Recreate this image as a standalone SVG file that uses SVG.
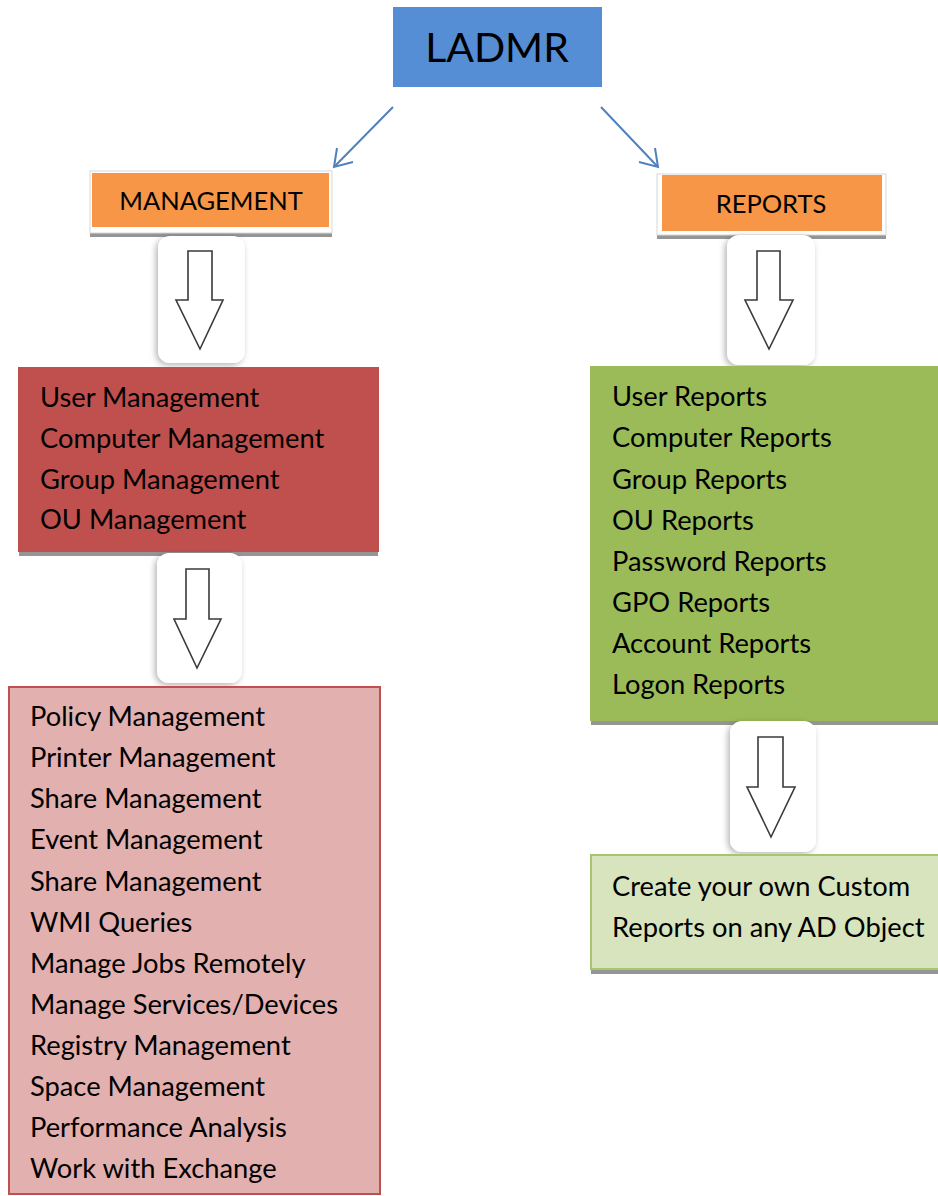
<svg xmlns="http://www.w3.org/2000/svg" width="938" height="1196" viewBox="0 0 938 1196">
<style>
text{font-family:Lato,"Open Sans","Liberation Sans",sans-serif;fill:#000}
.item{font-size:27.3px}
.hdr{font-size:25.5px}
.conn{stroke:#4F81BD;stroke-width:2;fill:none}
.dn{fill:#fff;stroke:#3a3a3a;stroke-width:1.6;stroke-linejoin:miter}
.card{fill:#fff}
.shadow{fill:#959595}
</style>
<defs>
<filter id="soft" x="-30%" y="-20%" width="160%" height="140%">
<feDropShadow dx="-2" dy="2" stdDeviation="3" flood-color="#000" flood-opacity="0.3"/>
</filter>
</defs>
<rect width="938" height="1196" fill="#fff"/>

<g id="ladmr">
<rect x="393" y="7" width="209" height="80" fill="#558ED5"/>
<text x="497" y="62" font-size="41" text-anchor="middle">LADMR</text>
</g>

<g id="connectors">
<line class="conn" x1="393" y1="107" x2="335" y2="166"/>
<polyline class="conn" points="337,148 334,167 353,162"/>
<line class="conn" x1="601" y1="107" x2="657" y2="166"/>
<polyline class="conn" points="639,162 658,167 655,148"/>
</g>

<g id="management">
<rect x="90" y="178" width="242" height="59" class="shadow"/>
<rect x="90" y="171" width="242" height="62" fill="#fff" stroke="#d8d8d8" stroke-width="1"/>
<rect x="92" y="173" width="237" height="54" fill="#F79646"/>
<text x="211" y="210" class="hdr" text-anchor="middle">MANAGEMENT</text>
</g>

<g id="reports">
<rect x="657" y="181" width="229" height="58" class="shadow"/>
<rect x="657" y="174" width="229" height="61" fill="#fff" stroke="#d8d8d8" stroke-width="1"/>
<rect x="662" y="175" width="220" height="56" fill="#F79646"/>
<text x="771" y="213" class="hdr" text-anchor="middle">REPORTS</text>
</g>

<g id="arrow-mgmt-1">
<rect x="158" y="236" width="87" height="127" rx="12" class="card" filter="url(#soft)"/>
<path class="dn" d="M188,251 H212 V300 H223 L200,349 L176,300 H188 Z"/>
</g>

<g id="arrow-rep-1">
<rect x="727" y="235" width="88" height="130" rx="12" class="card" filter="url(#soft)"/>
<path class="dn" d="M757,251 H780 V300 H793 L769,349 L745,300 H757 Z"/>
</g>

<g id="core-management">
<rect x="19" y="371" width="359" height="185" class="shadow"/>
<rect x="18" y="367" width="361" height="185" fill="#C0504D"/>
<text class="item" x="40" y="407">User Management</text>
<text class="item" x="40" y="448">Computer Management</text>
<text class="item" x="40" y="489">Group Management</text>
<text class="item" x="40" y="529">OU Management</text>
</g>

<g id="arrow-mgmt-2">
<rect x="157" y="553" width="85" height="130" rx="12" class="card" filter="url(#soft)"/>
<path class="dn" d="M186,569 H209 V619 H221 L197,668 L174,619 H186 Z"/>
</g>

<g id="more-management">
<rect x="9" y="687" width="371" height="507" fill="#E2B0AF" stroke="#C0504D" stroke-width="2"/>
<text class="item" x="30" y="726">Policy Management</text>
<text class="item" x="30" y="767">Printer Management</text>
<text class="item" x="30" y="808">Share Management</text>
<text class="item" x="30" y="849">Event Management</text>
<text class="item" x="30" y="891">Share Management</text>
<text class="item" x="30" y="932">WMI Queries</text>
<text class="item" x="30" y="973">Manage Jobs Remotely</text>
<text class="item" x="30" y="1014">Manage Services/Devices</text>
<text class="item" x="30" y="1055">Registry Management</text>
<text class="item" x="30" y="1096">Space Management</text>
<text class="item" x="30" y="1137">Performance Analysis</text>
<text class="item" x="30" y="1178">Work with Exchange</text>
</g>

<g id="report-list">
<rect x="591" y="370" width="347" height="355" class="shadow"/>
<rect x="590" y="366" width="348" height="355" fill="#9BBB59"/>
<text class="item" x="612" y="406">User Reports</text>
<text class="item" x="612" y="447">Computer Reports</text>
<text class="item" x="612" y="489">Group Reports</text>
<text class="item" x="612" y="530">OU Reports</text>
<text class="item" x="612" y="571">Password Reports</text>
<text class="item" x="612" y="612">GPO Reports</text>
<text class="item" x="612" y="653">Account Reports</text>
<text class="item" x="612" y="694">Logon Reports</text>
</g>

<g id="arrow-rep-2">
<rect x="730" y="721" width="86" height="131" rx="12" class="card" filter="url(#soft)"/>
<path class="dn" d="M758,737 H783 V787 H795 L771,837 L747,787 H758 Z"/>
</g>

<g id="custom-reports">
<rect x="591" y="858" width="347" height="116" class="shadow"/>
<rect x="591" y="855" width="348" height="114" fill="#D7E4BD" stroke="#A9C46F" stroke-width="2"/>
<text class="item" x="612" y="896">Create your own Custom</text>
<text class="item" x="612" y="937">Reports on any AD Object</text>
</g>
</svg>
